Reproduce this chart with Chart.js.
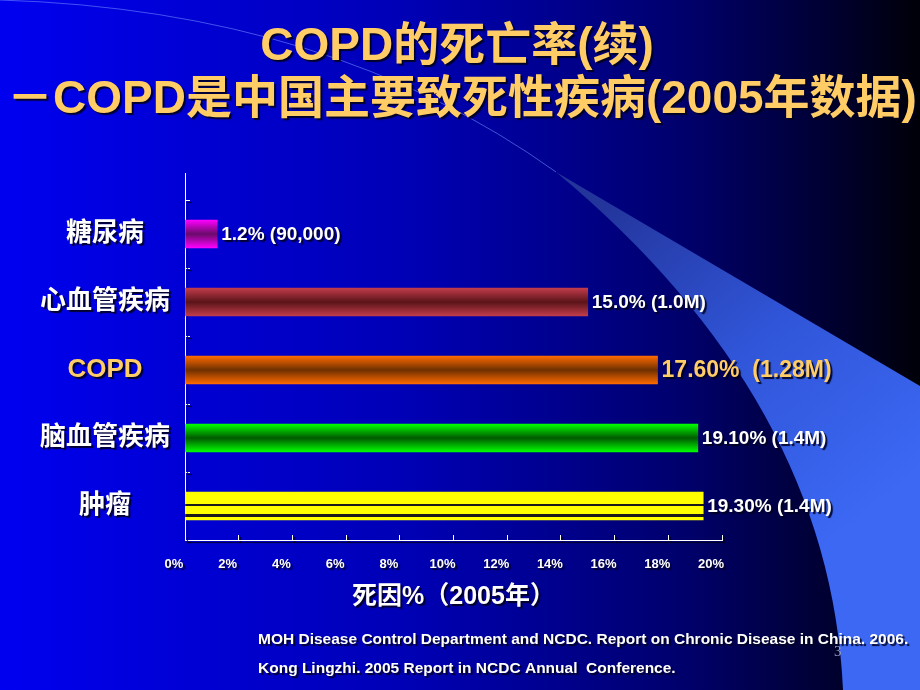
<!DOCTYPE html>
<html>
<head>
<meta charset="utf-8">
<script src="https://cdn.jsdelivr.net/npm/chart.js@4.4.1/dist/chart.umd.min.js"></script>
<style>
    html, body { margin: 0; padding: 0; background: #0000cc; }
    #wrap { width: 920px; height: 690px; position: relative; }
</style>
</head>
<body>
<div id="wrap"><canvas id="deathChart" width="920" height="690"></canvas></div>
<script>
const titleLines = ['COPD的死亡率(续)', '－COPD是中国主要致死性疾病(2005年数据)'];
const categories = ['糖尿病', '心血管疾病', 'COPD', '脑血管疾病', '肿瘤'];
const deathRates = [1.2, 15.0, 17.6, 19.1, 19.3];
const valueLabels = ['1.2% (90,000)', '15.0% (1.0M)', '17.60%  (1.28M)', '19.10% (1.4M)', '19.30% (1.4M)'];
const xTickValues = [0, 2, 4, 6, 8, 10, 12, 14, 16, 18, 20];
const xAxisTitle = '死因%（2005年）';
const sourceLines = [
    'MOH Disease Control Department and NCDC. Report on Chronic Disease in China. 2006.',
    'Kong Lingzhi. 2005 Report in NCDC Annual  Conference.'
];

// bar look: bright edge, dark middle
const edgeColors = ['#ff00ff', '#c23c4c', '#ff6a00', '#00ff00', '#ffff00'];
const midColors = ['#6a0a6a', '#5a1418', '#6e3000', '#005a00', '#ffff00'];

const FONT = "'Liberation Sans', Arial, 'Noto Sans CJK SC', sans-serif";
const GOLD = '#ffcc66';

function setShadow(ctx) {
    ctx.shadowColor = 'rgba(0, 0, 30, 0.9)';
    ctx.shadowOffsetX = 2;
    ctx.shadowOffsetY = 2;
    ctx.shadowBlur = 1;
}

function clearShadow(ctx) {
    ctx.shadowColor = 'rgba(0,0,0,0)';
    ctx.shadowOffsetX = 0;
    ctx.shadowOffsetY = 0;
    ctx.shadowBlur = 0;
}

function barFill(context) {
    const i = context.dataIndex;
    const chart = context.chart;
    const yScale = chart.scales.y;
    if (context.type !== 'data' || !chart.chartArea || !yScale) {
        return edgeColors[i] || edgeColors[0];
    }
    const yc = yScale.getPixelForValue(i);
    const g = chart.ctx.createLinearGradient(0, yc - 14, 0, yc + 14);
    if (i === 4) {
        // yellow bar with two dark rules
        g.addColorStop(0, '#ffff00');
        g.addColorStop(0.44, '#ffff00');
        g.addColorStop(0.44, '#1a1a1a');
        g.addColorStop(0.5, '#1a1a1a');
        g.addColorStop(0.5, '#ffff00');
        g.addColorStop(0.8, '#ffff00');
        g.addColorStop(0.8, '#1a1a1a');
        g.addColorStop(0.9, '#1a1a1a');
        g.addColorStop(0.9, '#ffff00');
        g.addColorStop(1, '#ffff00');
        return g;
    }
    g.addColorStop(0, edgeColors[i]);
    g.addColorStop(0.5, midColors[i]);
    g.addColorStop(1, edgeColors[i]);
    return g;
}

const slideBackground = {
    id: 'slideBackground',
    beforeDraw(chart) {
        const ctx = chart.ctx;
        const w = chart.width, h = chart.height;
        ctx.save();
        const bg = ctx.createLinearGradient(0, 0, w, 0);
        bg.addColorStop(0, '#0000f0');
        bg.addColorStop(0.45, '#0000b4');
        bg.addColorStop(0.75, '#00006a');
        bg.addColorStop(0.92, '#00002a');
        bg.addColorStop(1, '#000008');
        ctx.fillStyle = bg;
        ctx.fillRect(0, 0, w, h);

        // swoosh decoration
        const sw = ctx.createLinearGradient(600, 200, 860, 520);
        sw.addColorStop(0, '#23349a');
        sw.addColorStop(0.5, '#3055d8');
        sw.addColorStop(1, '#3c68f4');
        ctx.beginPath();
        ctx.moveTo(556, 172);
        ctx.lineTo(920, 386);
        ctx.lineTo(920, 690);
        ctx.lineTo(843, 690);
        ctx.quadraticCurveTo(830, 400, 556, 172);
        ctx.closePath();
        ctx.fillStyle = sw;
        ctx.fill();

        ctx.beginPath();
        ctx.moveTo(0, 0);
        ctx.quadraticCurveTo(330, 10, 556, 172);
        ctx.strokeStyle = 'rgba(120, 150, 255, 0.55)';
        ctx.lineWidth = 1;
        ctx.stroke();
        ctx.restore();

        // title
        ctx.save();
        setShadow(ctx);
        ctx.fillStyle = GOLD;
        ctx.textAlign = 'center';
        ctx.textBaseline = 'middle';
        ctx.font = 'bold 46px ' + FONT;
        ctx.fillText(titleLines[0], 457, 47);
        ctx.fillText(titleLines[1], 462, 100);
        ctx.restore();

        // axes and tick labels get the same shadow
        setShadow(ctx);
    },
    beforeDatasetsDraw(chart) {
        clearShadow(chart.ctx);
    },
    afterDatasetsDraw(chart) {
        const ctx = chart.ctx;
        const meta = chart.getDatasetMeta(0);
        ctx.save();
        setShadow(ctx);
        ctx.textBaseline = 'middle';
        ctx.textAlign = 'left';
        meta.data.forEach((bar, i) => {
            if (i === 2) {
                ctx.font = 'bold 23px ' + FONT;
                ctx.fillStyle = GOLD;
            } else {
                ctx.font = 'bold 19px ' + FONT;
                ctx.fillStyle = '#ffffff';
            }
            ctx.fillText(valueLabels[i], bar.x + 4, bar.y + 1);
        });
        ctx.restore();
    },
    afterDraw(chart) {
        const ctx = chart.ctx;
        const area = chart.chartArea;
        ctx.save();
        clearShadow(ctx);
        // y axis line runs a little above the plot
        ctx.strokeStyle = '#ffffff';
        ctx.lineWidth = 1;
        ctx.beginPath();
        ctx.moveTo(area.left + 0.5, area.top - 27);
        ctx.lineTo(area.left + 0.5, area.top);
        ctx.stroke();

        setShadow(ctx);
        ctx.fillStyle = '#ffffff';
        ctx.font = 'bold 15.5px ' + FONT;
        ctx.textBaseline = 'middle';
        ctx.fillText(sourceLines[0], 258, 640);
        ctx.fillText(sourceLines[1], 258, 669);

        clearShadow(ctx);
        ctx.fillStyle = '#9aa0c0';
        ctx.font = '15px "Liberation Serif", serif';
        ctx.fillText('3', 834, 652);
        ctx.restore();
    }
};

const ctx = document.getElementById('deathChart').getContext('2d');
new Chart(ctx, {
    type: 'bar',
    data: {
        labels: categories,
        datasets: [{
            data: deathRates,
            backgroundColor: barFill,
            borderWidth: 0,
            barThickness: 28
        }]
    },
    options: {
        indexAxis: 'y',
        responsive: false,
        animation: false,
        layout: {
            padding: { top: 200, left: 20, right: 198, bottom: 78 }
        },
        scales: {
            x: {
                min: 0,
                max: 20,
                afterBuildTicks: axis => {
                    axis.ticks = xTickValues.map(v => ({ value: v }));
                },
                grid: {
                    drawOnChartArea: false,
                    drawTicks: true,
                    tickLength: -5,
                    color: '#ffffff'
                },
                border: { color: '#ffffff', width: 1 },
                ticks: {
                    color: '#ffffff',
                    padding: 22,
                    labelOffset: -11,
                    maxRotation: 0,
                    font: { family: FONT, size: 13, weight: 'bold' },
                    callback: value => value + '%'
                },
                title: {
                    display: true,
                    text: xAxisTitle,
                    color: '#ffffff',
                    font: { family: FONT, size: 25, weight: 'bold' },
                    padding: { top: -12.6, bottom: 0 }
                }
            },
            y: {
                grid: {
                    drawOnChartArea: false,
                    drawTicks: true,
                    tickLength: -5,
                    color: '#ffffff'
                },
                border: { color: '#ffffff', width: 1 },
                ticks: {
                    crossAlign: 'center',
                    padding: 20,
                    color: context => context.index === 2 ? GOLD : '#ffffff',
                    font: { family: FONT, size: 26, weight: 'bold' }
                }
            }
        },
        plugins: {
            legend: { display: false },
            tooltip: { enabled: false },
            title: { display: false }
        }
    },
    plugins: [slideBackground]
});
</script>
</body>
</html>
